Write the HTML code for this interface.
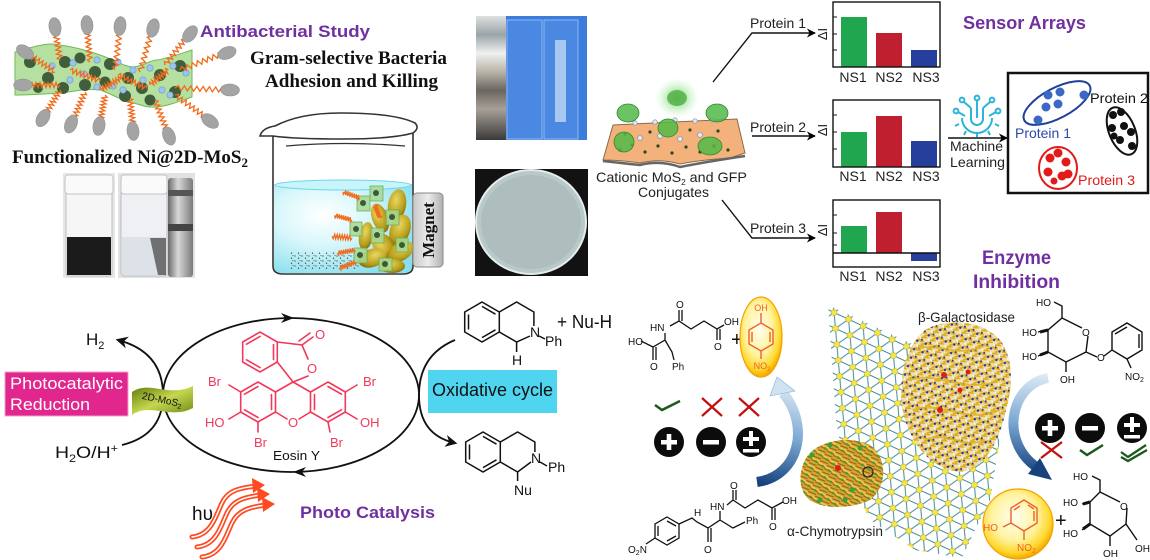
<!DOCTYPE html>
<html><head><meta charset="utf-8"><style>
html,body{margin:0;padding:0;background:#fff;}
svg{display:block;}
</style></head><body>
<svg width="1150" height="560" viewBox="0 0 1150 560" xmlns="http://www.w3.org/2000/svg" xmlns:xlink="http://www.w3.org/1999/xlink" font-family="'Liberation Sans', Arial, sans-serif">
<defs>
  <marker id="ah" viewBox="0 0 10 10" refX="9" refY="5" markerWidth="9" markerHeight="9" markerUnits="userSpaceOnUse" orient="auto"><path d="M0,0 L10,5 L0,10 L3,5 Z" fill="#000"/></marker>
  <marker id="ah2" viewBox="0 0 10 10" refX="8" refY="5" markerWidth="12" markerHeight="12" markerUnits="userSpaceOnUse" orient="auto"><path d="M0,0 L10,5 L0,10 L3,5 Z" fill="#111"/></marker>
  <path id="zz" d="M0,0 l2.5,-2.5 l2.5,5 l2.5,-5 l2.5,5 l2.5,-5 l2.5,5 l2.5,-5 l2.5,5 l2.5,-5 l2.5,5 l2.5,-5 l2.5,5 l2.5,-5 l2.5,5 l2.5,-5 l2.5,2.5" fill="none" stroke="#f26a1b" stroke-width="1.3" vector-effect="non-scaling-stroke"/>
  <pattern id="lat" width="16" height="27.7" patternUnits="userSpaceOnUse" patternTransform="rotate(25)">
    <path d="M0,0H16M0,13.85H16M0,27.7H16M0,0L16,27.7M16,0L0,27.7" stroke="#3a8a9c" stroke-width="1"/>
    <circle cx="0" cy="0" r="3" fill="#f2e64a" stroke="#b8a820" stroke-width=".5"/>
    <circle cx="16" cy="0" r="3" fill="#f2e64a" stroke="#b8a820" stroke-width=".5"/>
    <circle cx="8" cy="13.85" r="3" fill="#f2e64a" stroke="#b8a820" stroke-width=".5"/>
    <circle cx="0" cy="27.7" r="3" fill="#f2e64a" stroke="#b8a820" stroke-width=".5"/>
    <circle cx="16" cy="27.7" r="3" fill="#f2e64a" stroke="#b8a820" stroke-width=".5"/>
  </pattern>
  <pattern id="gal" width="9" height="9" patternUnits="userSpaceOnUse" patternTransform="rotate(20)">
    <rect width="9" height="9" fill="#ece0b0"/>
    <path d="M0,2 L6,0 M2,9 L9,4 M0,6 L4,5" stroke="#e0aa18" stroke-width="1.8"/>
    <circle cx="6.5" cy="6.5" r="1.2" fill="#2630a8"/>
    <circle cx="1.5" cy="4" r="1" fill="#1e2a90"/>
    <path d="M7,1 L9,3" stroke="#fff" stroke-width="1"/>
  </pattern>
  <pattern id="chy" width="8" height="8" patternUnits="userSpaceOnUse" patternTransform="rotate(35)">
    <rect width="8" height="8" fill="#d8a632"/>
    <path d="M0,3 L8,1 M0,7 L8,6" stroke="#8a5e10" stroke-width="1"/>
    <path d="M0,5 L8,4" stroke="#f3d060" stroke-width="1.2"/>
    <circle cx="5" cy="6" r="1.3" fill="#3a9c3a"/>
  </pattern>
  <pattern id="dots" width="7" height="5" patternUnits="userSpaceOnUse">
    <circle cx="1" cy="1" r=".65" fill="#444"/>
    <circle cx="4.5" cy="3.2" r=".65" fill="#444"/>
    <circle cx="6" cy=".6" r=".55" fill="#555"/>
  </pattern>
  <radialGradient id="liq" cx="0.35" cy="0.35" r="0.75">
    <stop offset="0" stop-color="#ffffff"/>
    <stop offset="0.45" stop-color="#d8f7fb"/>
    <stop offset="1" stop-color="#86deee"/>
  </radialGradient>
  <radialGradient id="yel" cx="0.45" cy="0.4" r="0.6">
    <stop offset="0" stop-color="#fffef0"/>
    <stop offset="0.55" stop-color="#fff3a0"/>
    <stop offset="0.85" stop-color="#ffd72a"/>
    <stop offset="1" stop-color="#f4a800"/>
  </radialGradient>
  <radialGradient id="glow" cx="0.5" cy="0.5" r="0.5">
    <stop offset="0" stop-color="#5ccc50" stop-opacity=".9"/>
    <stop offset="1" stop-color="#b8f0b0" stop-opacity="0"/>
  </radialGradient>
  <linearGradient id="bl1" gradientUnits="userSpaceOnUse" x1="785" y1="385" x2="757" y2="482">
    <stop offset="0" stop-color="#dbeaf5"/><stop offset=".5" stop-color="#7aa6d2"/><stop offset="1" stop-color="#17427e"/>
  </linearGradient>
  <linearGradient id="bl2" gradientUnits="userSpaceOnUse" x1="1048" y1="375" x2="1040" y2="475">
    <stop offset="0" stop-color="#dbeaf5"/><stop offset=".5" stop-color="#7aa6d2"/><stop offset="1" stop-color="#17427e"/>
  </linearGradient>
  <linearGradient id="rib" x1="0" y1="0" x2="1" y2="1">
    <stop offset="0" stop-color="#5c7a0a"/><stop offset=".5" stop-color="#c6d650"/><stop offset="1" stop-color="#6c8a12"/>
  </linearGradient>
  <linearGradient id="mag" x1="0" y1="0" x2="1" y2="0">
    <stop offset="0" stop-color="#c8c8c8"/><stop offset=".5" stop-color="#ececec"/><stop offset="1" stop-color="#b0b0b0"/>
  </linearGradient>
  <linearGradient id="metal" x1="0" y1="0" x2="0" y2="1">
    <stop offset="0" stop-color="#e0e0e0"/><stop offset=".15" stop-color="#9aa4a8"/><stop offset=".3" stop-color="#f0f0f0"/>
    <stop offset=".45" stop-color="#b8b4a8"/><stop offset=".6" stop-color="#6a6660"/><stop offset=".75" stop-color="#a8a098"/><stop offset="1" stop-color="#3a3a3a"/>
  </linearGradient>
  <linearGradient id="nimag" x1="0" y1="0" x2="1" y2="0">
    <stop offset="0" stop-color="#6a6a6a"/><stop offset=".4" stop-color="#d8d8d8"/><stop offset="1" stop-color="#7a7a7a"/>
  </linearGradient>
  <radialGradient id="bact" cx=".4" cy=".35" r=".7">
    <stop offset="0" stop-color="#e8d860"/><stop offset=".7" stop-color="#b89c18"/><stop offset="1" stop-color="#7a6a10"/>
  </radialGradient>
</defs>

<!-- ================= Antibacterial ================= -->
<path d="M15,52 C35,46 50,42 60,45 C80,48 92,52 100,55 C115,60 125,67 133,67 C145,66 150,60 157,60 C170,58 182,53 192,50 L192,97 C180,101 168,106 157,107 C145,108 140,104 133,103 C120,100 110,93 100,90 C85,88 72,92 60,93 C45,94 30,95 15,95 Z" fill="#a9db8e" fill-opacity=".85" stroke="#6fb85a" stroke-width="1"/>
<g fill="#3e5e3c">
  <circle cx="30" cy="62" r="6"/><circle cx="48" cy="78" r="6"/><circle cx="65" cy="62" r="6"/><circle cx="80" cy="58" r="5.5"/><circle cx="95" cy="72" r="6"/>
  <circle cx="63" cy="88" r="6"/><circle cx="85" cy="85" r="6"/><circle cx="110" cy="64" r="6"/><circle cx="105" cy="82" r="5.5"/>
  <circle cx="128" cy="78" r="6"/><circle cx="125" cy="96" r="6"/><circle cx="142" cy="88" r="6"/><circle cx="150" cy="100" r="5.5"/>
  <circle cx="160" cy="75" r="6"/><circle cx="180" cy="66" r="6"/><circle cx="175" cy="92" r="6"/><circle cx="38" cy="88" r="5"/>
</g>
<g fill="#9cc4ee" stroke="#6a98d0" stroke-width=".6">
  <circle cx="73" cy="63" r="3.2"/><circle cx="97" cy="60" r="3.2"/><circle cx="118" cy="62" r="3.2"/><circle cx="133" cy="70" r="3.2"/>
  <circle cx="150" cy="68" r="3.2"/><circle cx="173" cy="66" r="3.2"/><circle cx="186" cy="73" r="3.2"/><circle cx="70" cy="80" r="3.2"/>
  <circle cx="84" cy="74" r="3.2"/><circle cx="97" cy="87" r="3.2"/><circle cx="113" cy="86" r="3.2"/><circle cx="123" cy="90" r="3.2"/>
  <circle cx="143" cy="80" r="3.2"/><circle cx="162" cy="90" r="3.2"/><circle cx="170" cy="95" r="3.2"/><circle cx="52" cy="66" r="3.2"/>
</g>
<g>
  <use href="#zz" transform="translate(60,60) rotate(-99) scale(.84,1)"/>
  <use href="#zz" transform="translate(90,62) rotate(-95) scale(.88,1)"/>
  <use href="#zz" transform="translate(115,70) rotate(-83) scale(1.06,1)"/>
  <use href="#zz" transform="translate(140,72) rotate(-74) scale(1.09,1)"/>
  <use href="#zz" transform="translate(165,65) rotate(-52) scale(.93,1)"/>
  <use href="#zz" transform="translate(55,72) rotate(-146) scale(.81,1)"/>
  <use href="#zz" transform="translate(180,70) rotate(-21) scale(1.12,1)"/>
  <use href="#zz" transform="translate(60,85) rotate(180) scale(.8,1)"/>
  <use href="#zz" transform="translate(175,88) rotate(2) scale(1.25,1)"/>
  <use href="#zz" transform="translate(60,90) rotate(121) scale(.73,1)"/>
  <use href="#zz" transform="translate(85,92) rotate(113) scale(.76,1)"/>
  <use href="#zz" transform="translate(105,95) rotate(100) scale(.69,1)"/>
  <use href="#zz" transform="translate(130,98) rotate(84) scale(.73,1)"/>
  <use href="#zz" transform="translate(155,100) rotate(69) scale(.85,1)"/>
  <use href="#zz" transform="translate(175,95) rotate(36) scale(.98,1)"/>
  <use href="#zz" transform="translate(70,70) rotate(20) scale(.8,1)"/>
  <use href="#zz" transform="translate(118,75) rotate(25) scale(.8,1)"/>
  <use href="#zz" transform="translate(100,90) rotate(-30) scale(.6,1)"/>
  <use href="#zz" transform="translate(150,85) rotate(-40) scale(.6,1)"/>
</g>
<g fill="#a4a4a4" stroke="#8a8a8a" stroke-width=".5">
  <ellipse rx="9.5" ry="6" transform="translate(55,27) rotate(-99)"/>
  <ellipse rx="9.5" ry="6" transform="translate(87,25) rotate(-95)"/>
  <ellipse rx="9.5" ry="6" transform="translate(120,26) rotate(-83)"/>
  <ellipse rx="9.5" ry="6" transform="translate(153,28) rotate(-74)"/>
  <ellipse rx="9.5" ry="6" transform="translate(190,34) rotate(-52)"/>
  <ellipse rx="9.5" ry="6" transform="translate(25,52) rotate(-146)"/>
  <ellipse rx="9.5" ry="6" transform="translate(227,53) rotate(-21)"/>
  <ellipse rx="9.5" ry="6" transform="translate(23,85) rotate(180)"/>
  <ellipse rx="9.5" ry="6" transform="translate(230,90) rotate(2)"/>
  <ellipse rx="9.5" ry="6" transform="translate(43,118) rotate(121)"/>
  <ellipse rx="9.5" ry="6" transform="translate(71,124) rotate(113)"/>
  <ellipse rx="9.5" ry="6" transform="translate(99,126) rotate(100)"/>
  <ellipse rx="9.5" ry="6" transform="translate(133,131) rotate(84)"/>
  <ellipse rx="9.5" ry="6" transform="translate(169,136) rotate(69)"/>
  <ellipse rx="9.5" ry="6" transform="translate(210,121) rotate(36)"/>
</g>

<text x="200" y="37" font-size="17" font-weight="bold" fill="#7030a0" textLength="170" lengthAdjust="spacingAndGlyphs">Antibacterial Study</text>
<g font-family="'Liberation Serif', 'Times New Roman', serif" font-weight="bold" font-size="19" fill="#111">
  <text x="250" y="64" textLength="197" lengthAdjust="spacingAndGlyphs">Gram-selective Bacteria</text>
  <text x="265" y="87" textLength="173" lengthAdjust="spacingAndGlyphs">Adhesion and Killing</text>
  <text x="12" y="163" textLength="236" lengthAdjust="spacingAndGlyphs">Functionalized Ni@2D-MoS<tspan font-size="13" dy="4">2</tspan></text>
</g>

<!-- vial photos -->
<rect x="63" y="173" width="52" height="105" fill="#e6e6e6"/>
<rect x="66" y="190" width="46" height="86" rx="3" fill="#f6f6f6" stroke="#bdbdbd"/>
<rect x="67" y="237" width="44" height="38" fill="#1b1b1b"/>
<rect x="65" y="175" width="48" height="19" rx="3" fill="#fafafa" stroke="#c4c4c4"/>
<rect x="118" y="173" width="77" height="105" fill="#e2e2e2"/>
<rect x="121" y="190" width="46" height="86" rx="3" fill="#eef0f4" stroke="#bcbcbc"/>
<rect x="122" y="237" width="44" height="38" fill="#dde1e8"/>
<path d="M150,238 L166,238 L166,275 L158,275 Z" fill="#4a4a4a" opacity=".75"/>
<rect x="121" y="175" width="46" height="19" rx="3" fill="#fafafa" stroke="#c4c4c4"/>
<rect x="168" y="178" width="25" height="99" rx="3" fill="url(#nimag)"/>
<rect x="168" y="190" width="25" height="6" fill="#555"/>
<rect x="168" y="224" width="25" height="7" fill="#444"/>

<!-- beaker -->
<path d="M274,184 L274,266 Q274,273 283,273 L403,273 Q412,273 412,266 L412,184 Z" fill="url(#liq)"/>
<ellipse cx="343" cy="185" rx="68" ry="5" fill="#c8f4fa" stroke="#6cd6ea" stroke-width="1"/>
<rect x="290" y="252" width="70" height="17" fill="url(#dots)"/>
<g fill="none" stroke="#333" stroke-width="1.6">
  <path d="M273,136 L273,266 Q273,274 283,274 L403,274 Q413,274 413,266 L413,132"/>
  <path d="M260,136 Q262,128 275,126 Q300,113 340,113 Q395,113 415,123 Q420,128 413,133 Q392,139 343,139 Q295,139 273,136 Q265,136 260,136 Z" fill="#fff"/>
  <path d="M286,146 Q345,141 405,146" stroke-width="1.2"/>
</g>
<g>
  <ellipse rx="9" ry="16" transform="translate(397,205) rotate(10)" fill="url(#bact)"/>
  <ellipse rx="8" ry="15" transform="translate(380,218) rotate(-20)" fill="url(#bact)"/>
  <ellipse rx="10" ry="16" transform="translate(400,230) rotate(20)" fill="url(#bact)"/>
  <ellipse rx="10" ry="15" transform="translate(384,246) rotate(-40)" fill="url(#bact)"/>
  <ellipse rx="9" ry="15" transform="translate(400,252) rotate(60)" fill="url(#bact)"/>
  <ellipse rx="9" ry="14" transform="translate(372,258) rotate(70)" fill="url(#bact)"/>
  <ellipse rx="13" ry="7" transform="translate(392,266)" fill="url(#bact)"/>
  <ellipse rx="7" ry="14" transform="translate(366,236) rotate(10)" fill="url(#bact)"/>
  <g fill="#a6d88e" fill-opacity=".85" stroke="#6aa650" stroke-width=".7">
    <rect x="357" y="196" width="13" height="15"/><rect x="370" y="186" width="13" height="15"/><rect x="386" y="210" width="13" height="15"/>
    <rect x="371" y="228" width="13" height="15"/><rect x="354" y="248" width="13" height="15"/><rect x="379" y="258" width="13" height="13"/>
    <rect x="396" y="238" width="12" height="14"/><rect x="350" y="222" width="12" height="14"/>
  </g>
  <g fill="#3a5a3a">
    <circle cx="363" cy="203" r="3"/><circle cx="376" cy="193" r="3"/><circle cx="392" cy="217" r="3"/><circle cx="377" cy="235" r="3"/>
    <circle cx="360" cy="255" r="3"/><circle cx="385" cy="264" r="3"/><circle cx="402" cy="245" r="3"/><circle cx="356" cy="229" r="3"/>
  </g>
  <use href="#zz" transform="translate(360,198) rotate(200) scale(.45,.9)"/>
  <use href="#zz" transform="translate(352,220) rotate(195) scale(.45,.9)"/>
  <use href="#zz" transform="translate(352,238) rotate(185) scale(.5,.9)"/>
  <use href="#zz" transform="translate(355,250) rotate(170) scale(.45,.9)"/>
  <use href="#zz" transform="translate(356,262) rotate(160) scale(.45,.9)"/>
  <use href="#zz" transform="translate(375,205) rotate(70) scale(.35,.9)"/>
</g>
<rect x="413" y="193" width="30" height="74" rx="4" fill="url(#mag)" stroke="#8a8a8a"/>
<text transform="translate(434,230) rotate(-90)" text-anchor="middle" font-family="'Liberation Serif', serif" font-weight="bold" font-size="17" fill="#111">Magnet</text>

<!-- photos -->
<rect x="476" y="16" width="111" height="124" fill="#3c7cdb"/>
<rect x="476" y="16" width="30" height="124" fill="url(#metal)"/>
<rect x="507" y="20" width="35" height="119" fill="#4a88e2" stroke="#8fb8ee"/>
<rect x="544" y="20" width="34" height="119" fill="#4a88e2" stroke="#8fb8ee"/>
<rect x="555" y="40" width="11" height="82" fill="#a8c8f2"/>
<rect x="475" y="169" width="113" height="107" fill="#121212"/>
<ellipse cx="531" cy="222" rx="55" ry="52" fill="#b9c8c8" stroke="#e4ecec" stroke-width="2"/>
<ellipse cx="531" cy="222" rx="50" ry="47" fill="#aebebe"/>

<!-- ================= Sensor arrays ================= -->
<ellipse cx="677" cy="98" rx="22" ry="20" fill="url(#glow)"/>
<ellipse cx="677" cy="98" rx="10" ry="8" fill="#4fae42" opacity=".8"/>
<path d="M603,160 L613,125 L737,119 L745,153 L730,158 Q700,160 680,164 Q660,158 640,163 Q620,160 603,160 Z" fill="#f3b27c" stroke="#8a6a4a" stroke-width="1"/>
<path d="M603,161 Q620,163 640,165 Q660,160 680,167 Q705,162 745,156" fill="none" stroke="#666" stroke-width="2.5"/>
<g fill="#2a4a1a">
  <circle cx="620" cy="150" r="1.6"/><circle cx="632" cy="145" r="1.6"/><circle cx="645" cy="152" r="1.6"/><circle cx="658" cy="146" r="1.6"/><circle cx="672" cy="153" r="1.6"/>
  <circle cx="686" cy="147" r="1.6"/><circle cx="700" cy="152" r="1.6"/><circle cx="714" cy="146" r="1.6"/><circle cx="728" cy="150" r="1.6"/><circle cx="625" cy="134" r="1.6"/>
  <circle cx="650" cy="132" r="1.6"/><circle cx="690" cy="130" r="1.6"/><circle cx="718" cy="131" r="1.6"/>
</g>
<g fill="#e4e8f4" stroke="#7a8aa8" stroke-width=".6">
  <circle cx="640" cy="138" r="2.5"/><circle cx="660" cy="136" r="2.5"/><circle cx="680" cy="139" r="2.5"/><circle cx="700" cy="135" r="2.5"/>
  <circle cx="655" cy="122" r="2.2"/><circle cx="675" cy="120" r="2.2"/><circle cx="695" cy="121" r="2.2"/><circle cx="712" cy="120" r="2.2"/><circle cx="635" cy="123" r="2.2"/>
</g>
<g fill="#52b848" fill-opacity=".85" stroke="#2e8a2a" stroke-width=".8">
  <ellipse cx="628" cy="113" rx="11" ry="9"/><ellipse cx="717" cy="113" rx="11" ry="9"/><ellipse cx="624" cy="142" rx="10" ry="10"/>
  <ellipse cx="668" cy="128" rx="10" ry="9"/><ellipse cx="710" cy="146" rx="12" ry="9"/>
</g>
<text x="596" y="182" font-size="14" fill="#222" textLength="151" lengthAdjust="spacingAndGlyphs">Cationic MoS<tspan font-size="8" dy="3">2</tspan><tspan dy="-3"> and GFP</tspan></text>
<text x="638" y="197" font-size="14" fill="#222" textLength="71" lengthAdjust="spacingAndGlyphs">Conjugates</text>

<g fill="none" stroke="#111" stroke-width="1.4">
  <path d="M713,82 L752,33 L815,33" marker-end="url(#ah)"/>
  <path d="M752,136 L815,136" marker-end="url(#ah)"/>
  <path d="M722,200 L752,238 L815,238" marker-end="url(#ah)"/>
  <path d="M948,138 L1007,138" marker-end="url(#ah)"/>
</g>
<g font-size="14" fill="#222">
  <text x="750" y="28" textLength="56" lengthAdjust="spacingAndGlyphs">Protein 1</text>
  <text x="750" y="132" textLength="56" lengthAdjust="spacingAndGlyphs">Protein 2</text>
  <text x="750" y="233" textLength="56" lengthAdjust="spacingAndGlyphs">Protein 3</text>
</g>
<g>
  <rect x="841" y="17" width="26" height="50" fill="#1fa64e"/>
  <rect x="876" y="33" width="26" height="34" fill="#c01f2f"/>
  <rect x="911" y="50" width="26" height="17" fill="#263e9c"/>
  <rect x="833" y="2" width="107" height="65" fill="none" stroke="#111" stroke-width="1.4"/>
  <path d="M833,17h4M833,34h4M833,50h4" stroke="#111"/>

  <rect x="841" y="132" width="26" height="35" fill="#1fa64e"/>
  <rect x="876" y="116" width="26" height="51" fill="#c01f2f"/>
  <rect x="911" y="141" width="26" height="26" fill="#263e9c"/>
  <rect x="833" y="100" width="107" height="67" fill="none" stroke="#111" stroke-width="1.4"/>
  <path d="M833,115h4M833,132h4M833,149h4" stroke="#111"/>

  <rect x="841" y="226" width="26" height="27" fill="#1fa64e"/>
  <rect x="876" y="212" width="26" height="41" fill="#c01f2f"/>
  <rect x="911" y="253" width="26" height="8" fill="#263e9c"/>
  <rect x="833" y="200" width="107" height="67" fill="none" stroke="#111" stroke-width="1.4"/>
  <path d="M833,253H940" stroke="#111" stroke-width="1.4"/>
  <path d="M833,215h4M833,233h4M833,245h4" stroke="#111"/>
</g>
<g font-size="14" fill="#222" text-anchor="middle">
  <text x="853" y="82">NS1</text><text x="889" y="82">NS2</text><text x="926" y="82">NS3</text>
  <text x="853" y="181">NS1</text><text x="889" y="181">NS2</text><text x="926" y="181">NS3</text>
  <text x="853" y="281">NS1</text><text x="889" y="281">NS2</text><text x="926" y="281">NS3</text>
</g>
<g font-size="13" fill="#222" text-anchor="middle">
  <text transform="translate(827,34) rotate(-90)">ΔI</text>
  <text transform="translate(827,130) rotate(-90)">ΔI</text>
  <text transform="translate(827,230) rotate(-90)">ΔI</text>
</g>
<text x="963" y="29" font-size="18" font-weight="bold" fill="#7030a0" textLength="123" lengthAdjust="spacingAndGlyphs">Sensor Arrays</text>

<g fill="none" stroke="#2bb5d8" stroke-width="2">
  <path d="M962,118 A15,15 0 0 0 992,118"/>
  <path d="M959,124 l-4,2 M995,124 l4,2 M966,131 l-2,4 M988,131 l2,4 M977,133 v4"/>
  <path d="M971,108 V119 A6,6 0 0 0 983,119 V108"/>
  <path d="M977,108 V118"/>
  <path d="M971,108 L964,102 M983,108 L990,102 M977,108 V100 M965,116 L958,112 M989,116 L996,112"/>
  <circle cx="962" cy="100" r="2.4"/><circle cx="992" cy="100" r="2.4"/><circle cx="977" cy="98" r="2.4"/><circle cx="956" cy="111" r="2.4"/><circle cx="998" cy="111" r="2.4"/>
</g>
<text x="950" y="151" font-size="14" fill="#222" textLength="53" lengthAdjust="spacingAndGlyphs">Machine</text>
<text x="950" y="167" font-size="14" fill="#222" textLength="55" lengthAdjust="spacingAndGlyphs">Learning</text>
<rect x="1008" y="73" width="140" height="120" fill="#fff" stroke="#111" stroke-width="2.5"/>
<ellipse cx="1057" cy="103" rx="37" ry="15" transform="rotate(-28 1057 103)" fill="none" stroke="#1f3f9a" stroke-width="2"/>
<g fill="#3a68c4">
  <circle cx="1038" cy="120" r="4.5"/><circle cx="1046" cy="107" r="4.5"/><circle cx="1058" cy="104" r="4.5"/><circle cx="1060" cy="92" r="4.5"/>
  <circle cx="1048" cy="95" r="4.5"/><circle cx="1084" cy="95" r="4.5"/>
</g>
<text x="1090" y="103" font-size="14" fill="#111" textLength="58" lengthAdjust="spacingAndGlyphs">Protein 2</text>
<text x="1015" y="138" font-size="14" fill="#2c48a8" textLength="56" lengthAdjust="spacingAndGlyphs">Protein 1</text>
<ellipse cx="1122" cy="131" rx="13" ry="25" transform="rotate(-22 1122 131)" fill="none" stroke="#111" stroke-width="2"/>
<g fill="#111">
  <circle cx="1113" cy="115" r="4"/><circle cx="1121" cy="112" r="4"/><circle cx="1112" cy="128" r="4"/><circle cx="1124" cy="126" r="4"/>
  <circle cx="1131" cy="132" r="4"/><circle cx="1120" cy="140" r="4"/><circle cx="1132" cy="146" r="4"/><circle cx="1114" cy="136" r="3.5"/>
</g>
<ellipse cx="1058" cy="168" rx="19" ry="21" fill="none" stroke="#e21a1a" stroke-width="2"/>
<g fill="#e21a1a">
  <circle cx="1050" cy="158" r="4.5"/><circle cx="1058" cy="153" r="4.5"/><circle cx="1066" cy="162" r="4.5"/><circle cx="1048" cy="172" r="4.5"/>
  <circle cx="1062" cy="176" r="4.5"/><circle cx="1068" cy="174" r="4.5"/><circle cx="1054" cy="181" r="3.5"/>
</g>
<text x="1078" y="185" font-size="14" fill="#e21a1a" textLength="57" lengthAdjust="spacingAndGlyphs">Protein 3</text>

<text x="982" y="264" font-size="19" font-weight="bold" fill="#7030a0" textLength="69" lengthAdjust="spacingAndGlyphs">Enzyme</text>
<text x="973" y="288" font-size="19" font-weight="bold" fill="#7030a0" textLength="87" lengthAdjust="spacingAndGlyphs">Inhibition</text>

<!-- ================= Photo catalysis ================= -->
<ellipse cx="291" cy="395" rx="128" ry="77" fill="none" stroke="#111" stroke-width="1.8"/>
<path d="M281,313 L294,318 L281,323 L285,318 Z" fill="#111"/>
<path d="M306,467 L293,472 L306,477 L302,472 Z" fill="#111"/>
<path d="M122,445 Q163,435 163,395 Q163,352 118,340" fill="none" stroke="#111" stroke-width="1.8" marker-end="url(#ah2)"/>
<path d="M455,340 Q419,355 419,395 Q419,435 455,443" fill="none" stroke="#111" stroke-width="1.8" marker-end="url(#ah2)"/>
<text x="86" y="345" font-size="17" fill="#111">H<tspan font-size="11" dy="4">2</tspan></text>
<text x="55" y="458" font-size="17" fill="#111" textLength="63" lengthAdjust="spacingAndGlyphs">H<tspan font-size="11" dy="4">2</tspan><tspan dy="-4">O/H</tspan><tspan font-size="11" dy="-6">+</tspan></text>
<rect x="5" y="372" width="123" height="44" fill="#e1268d" stroke="#f2a0c8" stroke-width="1"/>
<text x="10" y="389" font-size="17" fill="#fff" textLength="113" lengthAdjust="spacingAndGlyphs">Photocatalytic</text>
<text x="10" y="410" font-size="17" fill="#fff" textLength="80" lengthAdjust="spacingAndGlyphs">Reduction</text>
<path d="M132,392 C150,380 168,398 193,386 L193,408 C170,420 150,402 132,415 Z" fill="url(#rib)"/>
<text x="162" y="403" font-size="10" fill="#111" text-anchor="middle" transform="rotate(12 162 400)">2D-MoS<tspan font-size="7" dy="2">2</tspan></text>
<rect x="428" y="370" width="129" height="43" fill="#4fd5ef"/>
<text x="432" y="396" font-size="18" fill="#111" textLength="121" lengthAdjust="spacingAndGlyphs">Oxidative cycle</text>

<g fill="none" stroke="#f2385a" stroke-width="1.6" stroke-linecap="round">
  <path d="M258,382 L275.5,392 L275.5,412 L258,422 L240.7,412 L240.7,392 Z"/>
  <path d="M328,382 L345.3,392 L345.3,412 L328,422 L310.5,412 L310.5,392 Z"/>
  <path d="M293,382 L275.5,392 M293,382 L310.5,392 M275.5,412 L287,419 M299,419 L310.5,412"/>
  <path d="M258,386.5 L244.5,394.2 M244.5,409.8 L258,417.5 M271.5,394.5 L271.5,409.5"/>
  <path d="M328,386.5 L341.5,394.2 M341.5,409.8 L328,417.5 M314.5,394.5 L314.5,409.5"/>
  <path d="M240.7,392 L229,385 M240.7,412 L229,419 M258,422 L258,432 M345.3,392 L357,385 M345.3,412 L357,419 M328,422 L330,432"/>
  <path d="M260,332 L277.3,342 L277.3,362 L260,372 L242.7,362 L242.7,342 Z"/>
  <path d="M246.5,344.2 L260,336.4 M273.5,344.5 L273.5,359.5 M260,367.6 L246.5,359.8"/>
  <path d="M277.3,342 L302,345 L308,359 M308,376 L293,382 L277.3,362"/>
  <path d="M302,345 L313,337 M299,341 L310,333"/>
</g>
<g font-size="13" fill="#f2385a">
  <text x="320" y="339" text-anchor="middle">O</text>
  <text x="312" y="373" text-anchor="middle">O</text>
  <text x="293" y="427" text-anchor="middle">O</text>
  <text x="208" y="386">Br</text>
  <text x="205" y="427">HO</text>
  <text x="254" y="447">Br</text>
  <text x="363" y="386">Br</text>
  <text x="360" y="427">OH</text>
  <text x="330" y="447">Br</text>
</g>
<text x="273" y="460" font-size="13" fill="#111" textLength="47" lengthAdjust="spacingAndGlyphs">Eosin Y</text>

<g fill="none" stroke="#111" stroke-width="1.5">
  <path d="M482,302 L499.3,312 L499.3,332 L482,342 L464.7,332 L464.7,312 Z"/>
  <path d="M468.5,314.5 L468.5,329.5 M482,306.4 L495.5,314.2 M495.5,329.8 L482,337.6"/>
  <path d="M499.3,312 L516.6,302 L533.9,312 L533.9,326 M530,336 L516.6,342 L499.3,332 M516.6,342 V352 M539,336 L545,339"/>
  <path d="M483,432 L500.3,442 L500.3,462 L483,472 L465.7,462 L465.7,442 Z"/>
  <path d="M469.5,444.5 L469.5,459.5 M483,436.4 L496.5,444.2 M496.5,459.8 L483,467.6"/>
  <path d="M500.3,442 L517.6,432 L534.9,442 L534.9,452 M531,462 L517.6,472 L500.3,462 M517.6,472 V481 M540,462 L547,466"/>
</g>
<g font-size="14" fill="#111">
  <text x="530" y="337">N</text>
  <text x="545" y="346">Ph</text>
  <text x="512" y="365">H</text>
  <text x="531" y="463">N</text>
  <text x="548" y="472">Ph</text>
  <text x="514" y="495">Nu</text>
</g>
<text x="557" y="328" font-size="18" fill="#111" textLength="55" lengthAdjust="spacingAndGlyphs">+ Nu-H</text>

<g fill="none" stroke-linecap="round">
  <path d="M192,537 C212,535 216,515 222,503 C228,490 240,488 256,486" stroke="#ff4a22" stroke-width="5"/>
  <path d="M197,547 C217,545 221,525 227,513 C233,500 245,497 261,495" stroke="#ff4a22" stroke-width="5"/>
  <path d="M202,557 C222,555 226,535 232,523 C238,510 250,507 266,505" stroke="#ff4a22" stroke-width="5"/>
  <path d="M192,537 C212,535 216,515 222,503 C228,490 240,488 256,486" stroke="#fff" stroke-width="1.5"/>
  <path d="M197,547 C217,545 221,525 227,513 C233,500 245,497 261,495" stroke="#fff" stroke-width="1.5"/>
  <path d="M202,557 C222,555 226,535 232,523 C238,510 250,507 266,505" stroke="#fff" stroke-width="1.5"/>
</g>
<path d="M252,478 L265,485 L253,493 Z M257,487 L270,494 L258,502 Z M262,497 L275,504 L263,512 Z" fill="#ff4a22"/>
<text x="192" y="520" font-size="19" fill="#111">hυ</text>
<text x="300" y="518" font-size="17" font-weight="bold" fill="#7030a0" textLength="135" lengthAdjust="spacingAndGlyphs">Photo Catalysis</text>

<!-- ================= Enzyme inhibition ================= -->
<path d="M828,305 L925,350 L1000,440 L990,500 L975,530 L962,558 L915,550 L870,520 L845,470 L836,420 Z" fill="url(#lat)"/>
<path d="M925,330 C950,316 985,322 1000,340 C1015,360 1012,390 1006,410 C1000,440 985,470 960,472 C935,470 915,450 905,420 C895,390 905,345 925,330 Z" fill="url(#gal)"/>
<g fill="none" stroke="#e0b020" stroke-width="2" opacity=".8">
  <path d="M915,350 C935,340 960,360 985,345 M910,380 C935,370 965,395 1000,380 M912,410 C940,400 970,425 1000,410 M925,440 C945,430 965,450 985,440"/>
</g>
<g fill="#d82020"><circle cx="944" cy="375" r="3"/><circle cx="960" cy="390" r="2.5"/><circle cx="940" cy="410" r="3"/><circle cx="968" cy="372" r="2.5"/></g>
<path d="M805,460 C815,440 850,435 870,445 C890,460 885,490 870,500 C850,510 815,510 805,495 C798,485 800,470 805,460 Z" fill="url(#chy)"/>
<g fill="#3aa03a"><circle cx="812" cy="455" r="2.5"/><circle cx="830" cy="445" r="2.5"/><circle cx="852" cy="490" r="2.5"/><circle cx="820" cy="500" r="2.5"/><circle cx="860" cy="448" r="2.5"/><circle cx="845" cy="500" r="2.5"/></g>
<circle cx="838" cy="468" r="3" fill="#d82020"/>
<circle cx="868" cy="472" r="5" fill="none" stroke="#222" stroke-width="1.2"/>
<text x="918" y="322" font-size="14" fill="#222" textLength="97" lengthAdjust="spacingAndGlyphs">β-Galactosidase</text>
<text x="787" y="536" font-size="14" fill="#222" textLength="96" lengthAdjust="spacingAndGlyphs">α-Chymotrypsin</text>

<g fill="none" stroke="#111" stroke-width="1.3">
  <path d="M641,341 L653,347 L665,340 L665,333 M670,326 L679,321 L691,329 L704,321 L717,329 L724,325 M653,347 L653,360 M656,347 L656,360 M679,321 L679,310 M682,321 L682,310 M717,329 L717,340 M720,329 L720,340 M665,340 L672,352 L674,360"/>
</g>
<g font-size="10" fill="#111">
  <text x="628" y="345">HO</text><text x="650" y="331">HN</text><text x="676" y="308">O</text><text x="724" y="325">OH</text>
  <text x="714" y="350">O</text><text x="650" y="370">O</text><text x="672" y="370">Ph</text>
</g>
<text x="731" y="346" font-size="20" fill="#111">+</text>
<ellipse cx="761" cy="337" rx="21" ry="40" fill="url(#yel)" stroke="#f2a200" stroke-width="1.2"/>
<g fill="none" stroke="#f0602a" stroke-width="1.4">
  <path d="M761,323 L773,330 L773,344 L761,351 L749,344 L749,330 Z M761,323 V313 M761,351 V359 M752,332 V342 M770,332 V342"/>
</g>
<text x="761" y="311" font-size="9" fill="#f0602a" text-anchor="middle">OH</text>
<text x="762" y="369" font-size="9" fill="#f0602a" text-anchor="middle">NO<tspan font-size="6" dy="2">2</tspan></text>

<path d="M757,482 C800,476 810,425 783,393" fill="none" stroke="url(#bl1)" stroke-width="10"/>
<path d="M770,396 L777,377 L795,391 Z" fill="#cfe2f2" stroke="#9cc0dc" stroke-width=".8"/>

<path d="M655,405 L662,410 L680,401" fill="none" stroke="#1c5a1c" stroke-width="2.5"/>
<path d="M702,398 L722,416 M722,398 L702,416 M739,398 L759,416 M759,398 L739,416" stroke="#c01010" stroke-width="2.2"/>
<g fill="#0c0c0c"><circle cx="669" cy="442" r="15"/><circle cx="711" cy="442" r="15"/><circle cx="751" cy="442" r="15"/></g>
<g fill="#fff">
  <rect x="661" y="440" width="16" height="4.5"/><rect x="666.7" y="434" width="4.6" height="16"/>
  <rect x="703" y="440" width="16" height="4.5"/>
  <rect x="743" y="437" width="16" height="4"/><rect x="749" y="431" width="4" height="15"/><rect x="743" y="449" width="16" height="3.5"/>
</g>

<g fill="none" stroke="#111" stroke-width="1.3">
  <path d="M667,517 L679,524 L679,538 L667,545 L655,538 L655,524 Z M658,526 V536 M667,521 L676,526 M676,536 L667,541"/>
  <path d="M655,538 L646,544 M679,524 L692,518 L697,522 L708,528 L720,520 L720,511 M708,528 L708,542 M711,528 L711,542 M720,520 L733,528 L745,522 M727,505 L733,500 L745,508 L758,500 L772,508 L783,502 M733,500 L733,490 M736,500 L736,490 M772,508 L772,520 M775,508 L775,520"/>
</g>
<g font-size="10" fill="#111">
  <text x="628" y="553">O<tspan font-size="7" dy="2">2</tspan><tspan dy="-2">N</tspan></text><text x="694" y="516">H</text><text x="710" y="510">HN</text>
  <text x="704" y="553">O</text><text x="730" y="489">O</text><text x="746" y="524">Ph</text><text x="782" y="504">OH</text><text x="769" y="530">O</text>
</g>

<g fill="none" stroke="#111" stroke-width="1.4">
  <path d="M1062,318 L1082,328 M1088,336 L1086,352 L1066,362 L1048,352 L1048,330 L1062,318 M1062,318 L1062,306 L1054,302"/>
  <path d="M1048,330 L1038,332 M1048,352 L1038,356 M1066,362 L1066,372 M1086,352 L1097,357 M1104,356 L1112,350"/>
  <path d="M1112,350 L1112,332 L1127,323 L1142,332 L1142,350 L1127,359 Z M1115,334 L1127,327 M1139,334 V348 M1127,359 L1131,368"/>
</g>
<g stroke="#111" stroke-width="3"><path d="M1048,330 L1040,332 M1048,352 L1040,355"/></g>
<g font-size="10" fill="#111">
  <text x="1036" y="306">HO</text><text x="1022" y="336">HO</text><text x="1022" y="360">HO</text><text x="1060" y="383">OH</text>
  <text x="1082" y="336">O</text><text x="1097" y="361">O</text><text x="1125" y="380">NO<tspan font-size="7" dy="2">2</tspan></text>
</g>

<path d="M1048,378 C1010,385 1000,440 1035,466" fill="none" stroke="url(#bl2)" stroke-width="10"/>
<path d="M1028,474 L1040,458 L1052,480 Z" fill="#17427e"/>

<g fill="#0c0c0c"><circle cx="1050" cy="428" r="15"/><circle cx="1090" cy="428" r="15"/><circle cx="1132" cy="428" r="15"/></g>
<g fill="#fff">
  <rect x="1042" y="426" width="16" height="4.5"/><rect x="1047.7" y="420" width="4.6" height="16"/>
  <rect x="1082" y="426" width="16" height="4.5"/>
  <rect x="1124" y="423" width="16" height="4"/><rect x="1130" y="417" width="4" height="15"/><rect x="1124" y="435" width="16" height="3.5"/>
</g>
<path d="M1041,442 L1062,458 M1062,442 L1041,458" stroke="#c01010" stroke-width="2.2"/>
<path d="M1080,450 L1087,455 L1103,445" fill="none" stroke="#1c5a1c" stroke-width="2.5"/>
<path d="M1121,452 L1128,457 L1146,445 M1121,457 L1128,461 L1147,450" fill="none" stroke="#1c5a1c" stroke-width="2.3"/>

<circle cx="1018" cy="524" r="35" fill="url(#yel)" stroke="#f2a200" stroke-width="1.2"/>
<g fill="none" stroke="#f0602a" stroke-width="1.4">
  <path d="M1024,500 L1037,508 L1037,523 L1024,531 L1011,523 L1011,508 Z M1028,505 L1034,509 M1034,521 V511 M1014,510 L1020,506 M1011,523 L1003,527 M1024,531 V540"/>
</g>
<text x="983" y="531" font-size="10" fill="#f0602a">HO</text>
<text x="1017" y="551" font-size="10" fill="#f0602a">NO<tspan font-size="7" dy="2">2</tspan></text>
<text x="1055" y="527" font-size="20" fill="#111">+</text>

<g fill="none" stroke="#111" stroke-width="1.4">
  <path d="M1100,492 L1120,502 M1127,508 L1126,524 L1110,536 L1090,524 L1090,502 L1100,492 M1100,492 L1100,480 L1092,476"/>
  <path d="M1090,502 L1082,504 M1090,524 L1082,530 M1110,536 L1110,546 M1126,524 L1137,540"/>
</g>
<g stroke="#111" stroke-width="3"><path d="M1090,502 L1083,504 M1090,524 L1083,529"/></g>
<g font-size="10" fill="#111">
  <text x="1073" y="480">HO</text><text x="1063" y="506">HO</text><text x="1063" y="537">HO</text><text x="1103" y="557">OH</text>
  <text x="1120" y="510">O</text><text x="1135" y="552">OH</text>
</g>
</svg>
</body></html>
